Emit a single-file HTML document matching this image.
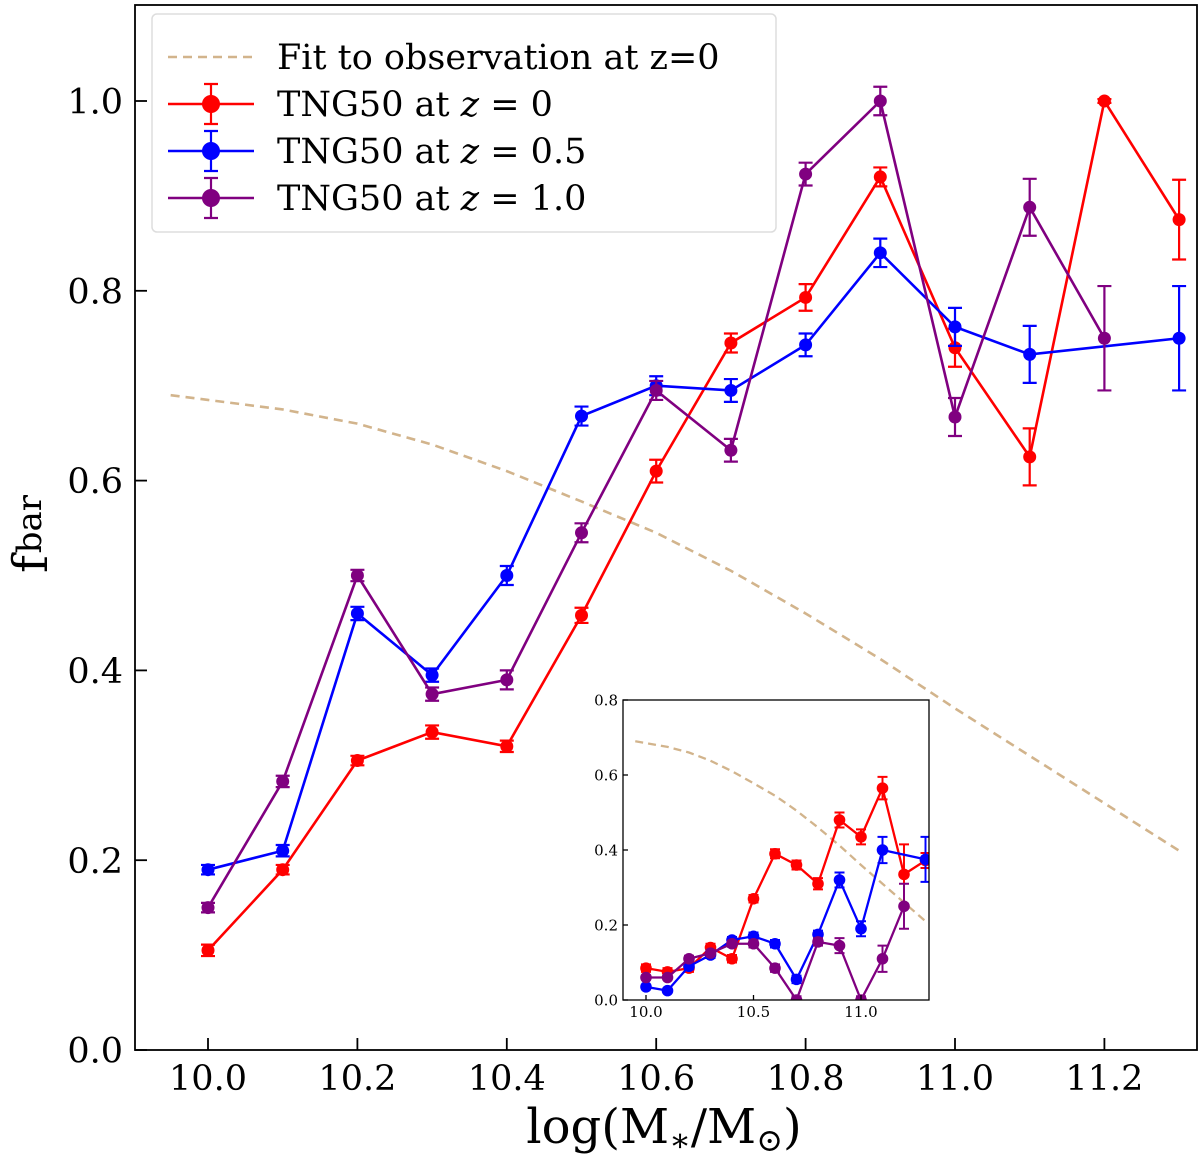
<!DOCTYPE html>
<html><head><meta charset="utf-8"><style>
html,body{margin:0;padding:0;background:#fff;}
svg{display:block;font-family:"DejaVu Serif","Liberation Serif",serif;}
</style></head><body>
<svg id="chart" width="1200" height="1161" viewBox="0 0 1200 1161">
<g id="main"></g>
<g id="inset"></g>
</svg>
<script>
const xVals=[10.0,10.1,10.2,10.3,10.4,10.5,10.6,10.7,10.8,10.9,11.0,11.1,11.2,11.3];
const redMain=[0.105,0.19,0.305,0.335,0.32,0.458,0.61,0.745,0.793,0.92,0.74,0.625,1.0,0.875];
const redErr=[0.006,0.005,0.005,0.007,0.006,0.008,0.012,0.01,0.014,0.01,0.02,0.03,0.002,0.042];
const blueX=[10.0,10.1,10.2,10.3,10.4,10.5,10.6,10.7,10.8,10.9,11.0,11.1,11.3];
const blueMain=[0.19,0.21,0.46,0.395,0.5,0.668,0.70,0.695,0.743,0.84,0.762,0.733,0.75];
const blueErr=[0.005,0.006,0.007,0.007,0.01,0.01,0.01,0.012,0.012,0.015,0.02,0.03,0.055];
const purpleX=[10.0,10.1,10.2,10.3,10.4,10.5,10.6,10.7,10.8,10.9,11.0,11.1,11.2];
const purpleMain=[0.15,0.283,0.50,0.375,0.39,0.545,0.695,0.632,0.923,1.0,0.667,0.888,0.75];
const purpleErr=[0.005,0.006,0.006,0.007,0.01,0.01,0.01,0.012,0.012,0.015,0.02,0.03,0.055];
const fitX=[9.95,10.0,10.1,10.2,10.3,10.4,10.5,10.6,10.7,10.8,10.9,11.0,11.1,11.2,11.3];
const fitY=[0.69,0.685,0.675,0.66,0.638,0.61,0.578,0.545,0.505,0.46,0.412,0.36,0.31,0.26,0.21];
const redInset=[0.085,0.075,0.085,0.14,0.11,0.27,0.39,0.36,0.31,0.48,0.435,0.565,0.335,0.372];
const redInsetErr=[0.01,0.01,0.01,0.01,0.01,0.01,0.012,0.012,0.015,0.02,0.02,0.03,0.08,0.02];
const blueInset=[0.035,0.025,0.09,0.12,0.16,0.17,0.15,0.055,0.175,0.32,0.19,0.40,0.375];
const blueInsetErr=[0.005,0.005,0.008,0.008,0.008,0.01,0.01,0.01,0.01,0.02,0.02,0.035,0.06];
const purpleInset=[0.06,0.06,0.11,0.125,0.15,0.15,0.085,0.0,0.155,0.145,0.0,0.11,0.25];
const purpleInsetErr=[0.005,0.005,0.008,0.008,0.008,0.01,0.01,0.01,0.01,0.02,0.01,0.035,0.06];
const yTicks=[0.0,0.2,0.4,0.6,0.8,1.0];
const xTicks=[10.0,10.2,10.4,10.6,10.8,11.0,11.2];
const insetYTicks=[0.0,0.2,0.4,0.6,0.8];
const insetXTicks=[10.0,10.5,11.0];

const NS="http://www.w3.org/2000/svg";
function mk(p,t,a){const e=document.createElementNS(NS,t);for(const k in a)e.setAttribute(k,a[k]);p.appendChild(e);return e;}

function plot(g,cfg){
  const X=v=>cfg.x0+(v-cfg.xa)*cfg.kx, Y=v=>cfg.y0-(v-cfg.ya)*cfg.ky;
  const cid='clip'+cfg.id;
  const cp=mk(mk(g,'defs',{}),'clipPath',{id:cid});
  mk(cp,'rect',{x:cfg.L,y:cfg.T,width:cfg.R-cfg.L,height:cfg.B-cfg.T});
  const bg=mk(g,'rect',{x:cfg.L,y:cfg.T,width:cfg.R-cfg.L,height:cfg.B-cfg.T,fill:'#fff'});
  
  
  const dg=mk(g,'g',{'clip-path':'url(#'+cid+')'});
  const fit=mk(dg,'polyline',{points:fitX.map((v,i)=>X(v)+','+Y(fitY[i])).join(' '),fill:'none',stroke:'#d2b48c','stroke-width':cfg.lw,'stroke-dasharray':cfg.dash});
  
  
  cfg.series.forEach(s=>{
    const sg=mk(dg,'g',{});
    
    
    mk(sg,'polyline',{points:s.x.map((v,i)=>X(v)+','+Y(s.y[i])).join(' '),fill:'none',stroke:s.c,'stroke-width':cfg.lw});
    s.x.forEach((v,i)=>{
      const cx=X(v),y1=Y(s.y[i]-s.e[i]),y2=Y(s.y[i]+s.e[i]);
      const eb=mk(sg,'path',{d:`M${cx},${y1}V${y2}M${cx-cfg.cap},${y1}H${cx+cfg.cap}M${cx-cfg.cap},${y2}H${cx+cfg.cap}`,stroke:s.c,'stroke-width':cfg.lw*0.85,fill:'none'});
      
      
      const pt=mk(sg,'circle',{cx:cx,cy:Y(s.y[i]),r:cfg.r,fill:s.c});
      
      
    });
  });
  const fr=mk(g,'rect',{x:cfg.L,y:cfg.T,width:cfg.R-cfg.L,height:cfg.B-cfg.T,fill:'none',stroke:'#000','stroke-width':cfg.fw});
  
  
  cfg.yt.forEach(v=>{
    mk(g,'line',{x1:cfg.L,x2:cfg.L+cfg.tl,y1:Y(v),y2:Y(v),stroke:'#000','stroke-width':cfg.fw});
    const t=mk(g,'text',{x:cfg.L-cfg.lp,y:Y(v)+cfg.fs*0.36,'font-size':cfg.fs,'text-anchor':'end'});
    t.textContent=v.toFixed(1);
    
    
  });
  cfg.xt.forEach(v=>{
    mk(g,'line',{x1:X(v),x2:X(v),y1:cfg.B,y2:cfg.B-cfg.tl,stroke:'#000','stroke-width':cfg.fw});
    const t=mk(g,'text',{x:X(v),y:cfg.B+cfg.lp+cfg.fs*0.8,'font-size':cfg.fs,'text-anchor':'middle'});
    t.textContent=v.toFixed(1);
    
    
  });
}

plot(document.getElementById('main'),{id:'m',L:135,R:1197,T:5,B:1050,x0:208,xa:10,kx:747,y0:1050,ya:0,ky:949,
  lw:2.6,dash:'9,6',cap:7,r:6.5,fw:1.8,tl:12,lp:12,fs:35,yt:yTicks,xt:xTicks,
  series:[{name:'series-z0',x:xVals,y:redMain,e:redErr,c:'#ff0000'},
          {name:'series-z05',x:blueX,y:blueMain,e:blueErr,c:'#0000ff'},
          {name:'series-z1',x:purpleX,y:purpleMain,e:purpleErr,c:'#800080'}]});

plot(document.getElementById('inset'),{id:'i',L:623,R:929,T:700,B:1000,x0:646,xa:10,kx:215,y0:1000,ya:0,ky:375,
  lw:2.3,dash:'8,5',cap:5,r:5.8,fw:1.3,tl:5,lp:5,fs:15,yt:insetYTicks,xt:insetXTicks,
  series:[{name:'inset-series-z0',x:xVals,y:redInset,e:redInsetErr,c:'#ff0000'},
          {name:'inset-series-z05',x:blueX,y:blueInset,e:blueInsetErr,c:'#0000ff'},
          {name:'inset-series-z1',x:purpleX,y:purpleInset,e:purpleInsetErr,c:'#800080'}]});

const svg=document.getElementById('chart');
const lg=mk(svg,'g',{});


mk(lg,'rect',{x:152,y:14,width:624,height:218,rx:5,fill:'#fff',stroke:'#ddd','stroke-width':1.5});
const items=[['dash','#d2b48c','Fit to observation at z=0'],['pt','#ff0000','TNG50 at <tspan font-style="italic">z</tspan> = 0'],['pt','#0000ff','TNG50 at <tspan font-style="italic">z</tspan> = 0.5'],['pt','#800080','TNG50 at <tspan font-style="italic">z</tspan> = 1.0']];
items.forEach((it,i)=>{
  const y=57+i*47;
  const eg=mk(lg,'g',{});
  
  
  if(it[0]==='dash') mk(eg,'line',{x1:168,x2:254,y1:y,y2:y,stroke:it[1],'stroke-width':2.6,'stroke-dasharray':'9,6'});
  else{
    mk(eg,'line',{x1:168,x2:254,y1:y,y2:y,stroke:it[1],'stroke-width':2.6});
    mk(eg,'path',{d:`M211,${y-20}V${y+20}M204,${y-20}H218M204,${y+20}H218`,stroke:it[1],'stroke-width':2.2,fill:'none'});
    mk(eg,'circle',{cx:211,cy:y,r:9,fill:it[1]});
  }
  const t=mk(eg,'text',{x:277,y:y+12,'font-size':35});
  t.innerHTML=it[2];
});
const xl=mk(svg,'text',{x:664,y:1143,'font-size':48,'text-anchor':'middle'});
xl.innerHTML='log(M<tspan font-size="32" dy="8">∗</tspan><tspan dy="-8">/M</tspan><tspan font-size="32" dy="8">⊙</tspan><tspan dy="-8">)</tspan>';


const yl=mk(svg,'text',{x:0,y:0,'font-size':48,transform:'translate(47,573) rotate(-90)'});
yl.innerHTML='f<tspan font-size="34" dy="-6" dx="2">bar</tspan>';


</script>
</body></html>
